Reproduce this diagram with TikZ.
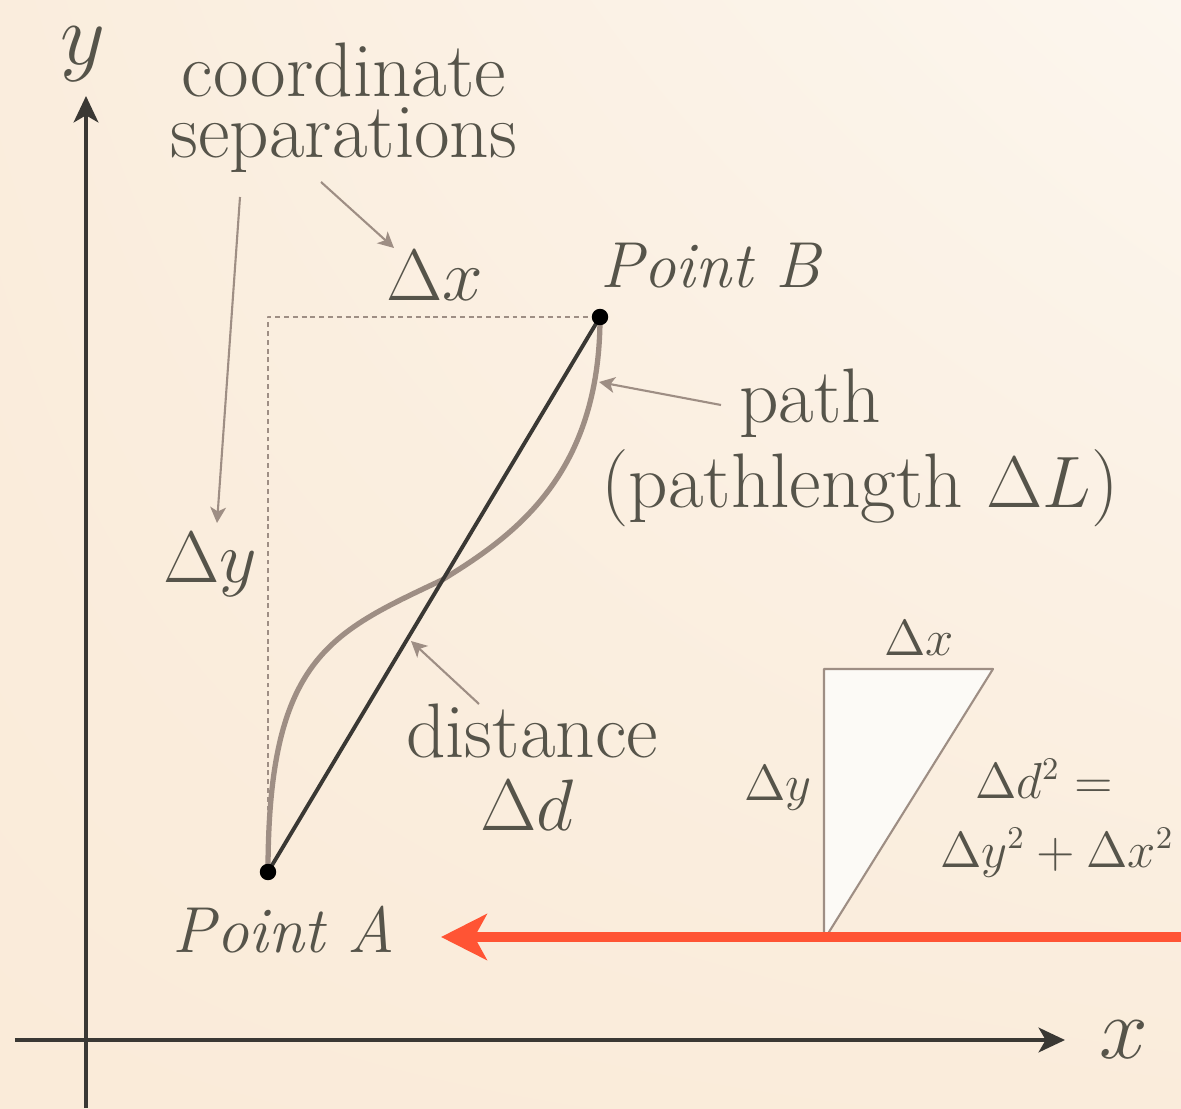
\documentclass[tikz,border=0pt]{standalone}
\usepackage{amsmath,amssymb}
\usepackage{tikz}
\usetikzlibrary{arrows.meta,shadings}
\definecolor{paperlo}{RGB}{250,235,217}
\definecolor{paperhi}{RGB}{252,246,238}
\definecolor{paperul}{RGB}{250,237,221}
\definecolor{paperlr}{RGB}{250,236,219}
\definecolor{ink}{RGB}{86,84,74}
\definecolor{axisgray}{RGB}{58,56,52}
\definecolor{taupe}{RGB}{158,142,132}
\definecolor{redorange}{RGB}{255,84,52}
\definecolor{trifill}{RGB}{252,250,246}
\tikzset{
	big/.style={text=ink, inner sep=0pt, anchor=base, font=\fontsize{22}{17.5}\selectfont},
	bigmath/.style={big, font=\fontsize{20}{19}\selectfont},
	bigit/.style={big, font=\fontsize{18.5}{19}\selectfont\itshape},
	axislbl/.style={big, font=\fontsize{23}{24}\selectfont},
	small/.style={text=ink, inner sep=0pt, anchor=base, font=\fontsize{13.5}{15}\selectfont},
	pointer/.style={taupe, line width=0.6pt, -{Stealth[length=4.5pt, width=4.5pt, inset=1.2pt]}},
	axisline/.style={axisgray, line width=1.2pt, -{Stealth[length=7.5pt, width=7pt, inset=2pt]}},
	guide/.style={taupe, line width=0.6pt, dash pattern=on 1.4pt off 1.1pt},
}
\begin{document}
\begin{tikzpicture}[line join=round] %%%{{{
	 \shade[lower left=paperlo, upper right=paperhi, upper left=paperul, lower right=paperlr] (0,0) rectangle (11.81,11.08);
	 \useasboundingbox (0,0) rectangle (11.81,11.08);
	 % axes
	 \coordinate (Ybot) at (0.86,0);
	 \coordinate (Ytop) at (0.86,10.12);
	 \coordinate (Xleft) at (0.15,0.68);
	 \coordinate (Xright) at (10.65,0.68);
	 \draw[axisline] (Ybot) -- (Ytop);
	 \draw[axisline] (Xleft) -- (Xright);
	 \node[axislbl] (ylab) at (0.83,10.43) {$y$};
	 \node[axislbl] (xlab) at (11.24,0.50) {$x$};
	 % the two points
	 \coordinate (A) at (2.68,2.36);
	 \coordinate (B) at (6.00,7.91);
	 \coordinate (C) at (2.68,7.91);
	 \coordinate (M) at (4.42,5.28);
	 \draw[guide] (A) -- (C) -- (B);
	 \draw[taupe, line width=1.5pt] (A) .. controls (2.68,4.5) and (3.3,4.75) .. (M)
	    .. controls (5.1,5.7) and (6.0,6.3) .. (B);
	 \draw[axisgray, line width=1.1pt] (A) -- (B);
	 \foreach \x in {A,B} \draw[fill=black] (\x) circle (0.075cm);
	 \node[bigit] (ptA) at (2.84,1.56) {Point A};
	 \node[bigit] (ptB) at (7.10,8.20) {Point B};
	 % labels
	 \node[big, align=center] (seps) at (3.44,9.50) {coordinate\\separations};
	 \node[bigmath] (dxtop) at (4.35,8.07) {$\Delta x$};
	 \node[bigmath] (dyleft) at (2.10,5.25) {$\Delta y$};
	 \node[big] (path) at (8.10,6.85) {path};
	 \node[big] (pathlen) at (8.60,6.01) {(pathlength $\Delta L$)};
	 \node[big] (dist) at (5.32,3.51) {distance};
	 \node[bigmath] (dd) at (5.27,2.78) {$\Delta d$};
	 % pointers
	 \coordinate (sepL) at (2.40,9.11);
	 \coordinate (sepR) at (3.21,9.26);
	 \coordinate (pathS) at (7.21,7.03);
	 \coordinate (distS) at (4.79,4.04);
	 \coordinate (dyT) at (2.17,5.85);
	 \coordinate (dxT) at (3.94,8.60);
	 \coordinate (curveT) at (5.99,7.26);
	 \coordinate (lineT) at (4.11,4.67);
	 \draw[pointer] (sepL) -- (dyT);
	 \draw[pointer] (sepR) -- (dxT);
	 \draw[pointer] (pathS) -- (curveT);
	 \draw[pointer] (distS) -- (lineT);
	 % little triangle
	 \coordinate (T1) at (8.24,4.39);
	 \coordinate (T2) at (9.93,4.39);
	 \coordinate (T3) at (8.24,1.68);
	 \draw[taupe, line width=0.6pt, fill=trifill] (T1) -- (T2) -- (T3) -- cycle;
	 \node[small] (dxtri) at (9.19,4.53) {$\Delta x$};
	 \node[small] (dytri) at (7.78,3.08) {$\Delta y$};
	 \node[small] (dsq) at (10.44,3.10) {$\Delta d^2 =$};
	 \node[small] (sumsq) at (10.57,2.41) {$\Delta y^2 + \Delta x^2$};
	 % red arrow
	 \coordinate (redS) at (11.81,1.71);
	 \coordinate (redT) at (4.41,1.71);
	 \draw[redorange, line width=2.9pt, -{Stealth[length=13pt, width=13pt, inset=3.5pt]}] (redS) -- (redT);
\end{tikzpicture}
\end{document}
